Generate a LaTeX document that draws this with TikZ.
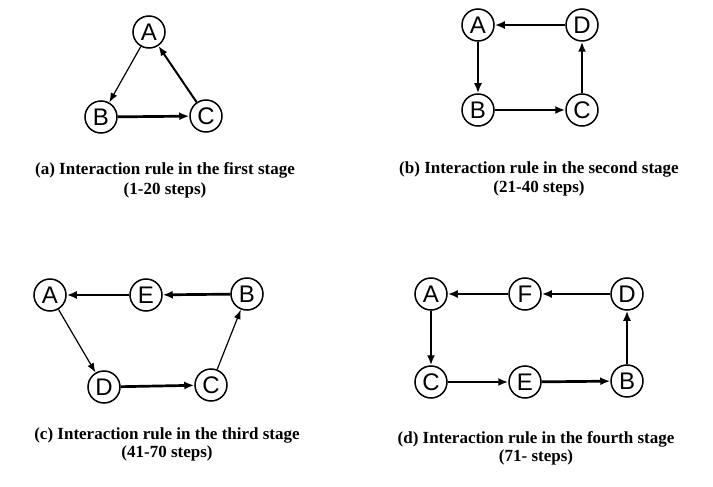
\documentclass[tikz,border=0pt]{standalone}
\usepackage{fontspec}
\setmainfont{Liberation Serif}
\newfontfamily\nodefont{Liberation Sans}
\usetikzlibrary{arrows.meta}
\begin{document}
\begin{tikzpicture}[x=1pt,y=-1pt,
  vtx/.style={circle,draw,line width=1.5pt,minimum size=32pt,inner sep=0pt,
    font=\nodefont\fontsize{24}{24}\selectfont},
  thickarr/.style={line width=2.7pt,-{Latex[length=10pt,width=8pt]}},
  midarr/.style={line width=2pt,-{Latex[length=10pt,width=7.5pt]}},
  thinarr/.style={line width=1.2pt,-{Latex[length=9.5pt,width=7pt]}},
  captxt/.style={font=\bfseries\fontsize{17}{19}\selectfont,anchor=base,inner sep=0pt}]
\path[use as bounding box] (0,0) rectangle (713,487);
% (a)
\node[vtx] (a1) at (149,32) {A};
\node[vtx] (b1) at (101,117) {B};
\node[vtx] (c1) at (206,116) {C};
\draw[thinarr] (a1) -- (b1);
\draw[thickarr] (b1) -- (c1);
\draw[midarr] (c1) -- (a1);
\node[captxt] (capa1) at (165,175) {(a) Interaction rule in the first stage};
\node[captxt] (capa2) at (165,194) {(1-20 steps)};
% (b)
\node[vtx] (a2) at (478,25) {A};
\node[vtx] (d2) at (582,25) {D};
\node[vtx] (b2) at (478,110) {B};
\node[vtx] (c2) at (582,110) {C};
\draw[thickarr] (d2) -- (a2);
\draw[thickarr] (a2) -- (b2);
\draw[thickarr] (b2) -- (c2);
\draw[thickarr] (c2) -- (d2);
\node[captxt] (capb1) at (539,173) {(b) Interaction rule in the second stage};
\node[captxt] (capb2) at (539,192) {(21-40 steps)};
% (c)
\node[vtx] (a3) at (50,295) {A};
\node[vtx] (e3) at (146,295) {E};
\node[vtx] (b3) at (247,294) {B};
\node[vtx] (d3) at (104,387) {D};
\node[vtx] (c3) at (211,385) {C};
\draw[thickarr] (e3) -- (a3);
\draw[thickarr] (b3) -- (e3);
\draw[thinarr] (a3) -- (d3);
\draw[thickarr] (d3) -- (c3);
\draw[thinarr] (c3) -- (b3);
\node[captxt] (capc1) at (167,439) {(c) Interaction rule in the third stage};
\node[captxt] (capc2) at (167,457) {(41-70 steps)};
% (d)
\node[vtx] (a4) at (431,294) {A};
\node[vtx] (f4) at (525,294) {F};
\node[vtx] (d4) at (627,294) {D};
\node[vtx] (c4) at (431,382) {C};
\node[vtx] (e4) at (525,382) {E};
\node[vtx] (b4) at (627,381) {B};
\draw[thickarr] (f4) -- (a4);
\draw[thickarr] (d4) -- (f4);
\draw[thickarr] (a4) -- (c4);
\draw[thickarr] (c4) -- (e4);
\draw[thickarr] (e4) -- (b4);
\draw[thickarr] (b4) -- (d4);
\node[captxt] (capd1) at (536,443) {(d) Interaction rule in the fourth stage};
\node[captxt] (capd2) at (536,461) {(71- steps)};
\end{tikzpicture}
\end{document}
